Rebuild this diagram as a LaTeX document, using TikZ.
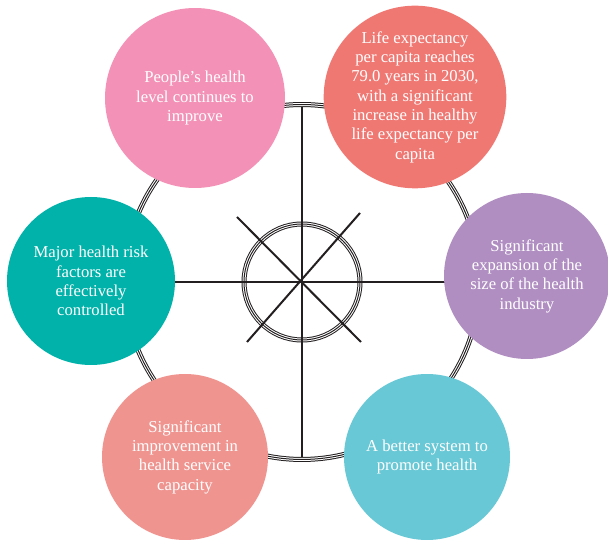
\documentclass[tikz,border=0pt]{standalone}
\usepackage{fontspec}
\setmainfont{Liberation Serif}
\definecolor{goalpink}{HTML}{F392B6}
\definecolor{goalred}{HTML}{F07873}
\definecolor{goalpurple}{HTML}{B08EC2}
\definecolor{goalteal}{HTML}{00B2A9}
\definecolor{goalsalmon}{HTML}{F09490}
\definecolor{goalcyan}{HTML}{68C8D6}
\definecolor{inkline}{HTML}{231F20}
\begin{document}
\begin{tikzpicture}[x=0.75pt,y=-0.75pt,
  goal/.style={circle, inner sep=0pt, align=center, text=white,
    font=\fontsize{12.5}{14.5}\selectfont},
  spoke/.style={line width=1.5pt, inkline}]
\useasboundingbox (0,0) rectangle (608,541);
\coordinate (hub) at (302,282);
% inner triple ring
\draw[line width=3.75pt, inkline] (hub) circle[radius=43.5pt];
\draw[line width=2.25pt, white] (hub) circle[radius=43.5pt];
\draw[line width=0.75pt, inkline] (hub) circle[radius=43.5pt];
% spokes
\path (hub) ++(90:133.1pt) coordinate (ringN)
      (hub) ++(-90:133.1pt) coordinate (ringS)
      (hub) ++(180:133.1pt) coordinate (ringW)
      (hub) ++(0:133.1pt) coordinate (ringE);
\coordinate (xNW) at (237,217);
\coordinate (xSE) at (361,342);
\coordinate (xNE) at (360,213);
\coordinate (xSW) at (247,342);
\draw[spoke] (ringN) -- (ringS);
\draw[spoke] (ringW) -- (ringE);
\draw[spoke] (xNW) -- (xSE);
\draw[spoke] (xNE) -- (xSW);
% outer triple ring
\draw[line width=3.75pt, inkline] (hub) circle[radius=133.1pt];
\draw[line width=2.25pt, white] (hub) circle[radius=133.1pt];
\draw[line width=0.75pt, inkline] (hub) circle[radius=133.1pt];
% goals
\node[goal, fill=goalpink, minimum size=135pt] (health) at (195,98)
  {People's health\\level continues to\\improve};
\node[goal, fill=goalred, minimum size=132pt] (lifeexp) at (415,97)
  {Life expectancy\\per capita reaches\\79.0 years in 2030,\\with a significant\\increase in healthy\\life expectancy per\\capita};
\node[goal, fill=goalpurple, minimum size=124.5pt] (industry) at (527,276)
  {Significant\\expansion of the\\size of the health\\industry};
\node[goal, fill=goalteal, minimum size=126pt] (risk) at (91,281)
  {Major health risk\\factors are\\effectively\\controlled};
\node[goal, fill=goalsalmon, minimum size=124.5pt] (service) at (185,457)
  {Significant\\improvement in\\health service\\capacity};
\node[goal, fill=goalcyan, minimum size=124.5pt] (system) at (427,457)
  {A better system to\\promote health};
\end{tikzpicture}
\end{document}
